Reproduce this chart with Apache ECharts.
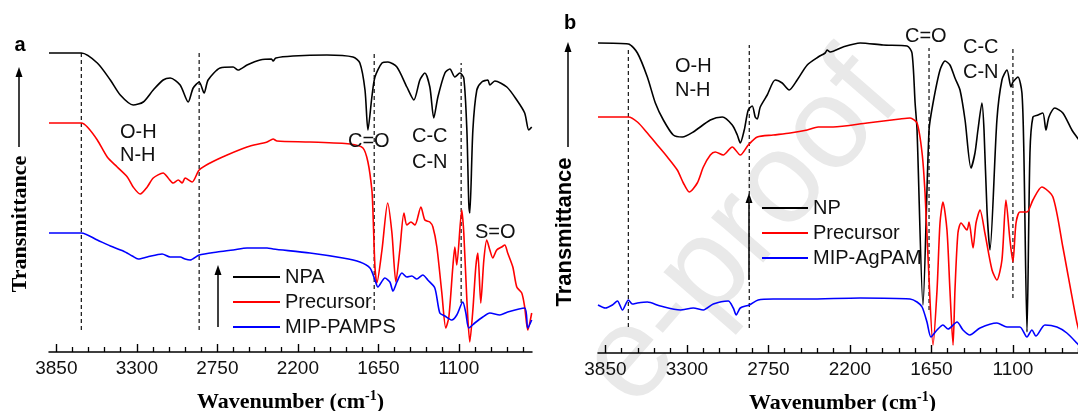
<!DOCTYPE html>
<html>
<head>
<meta charset="utf-8">
<script src="https://cdn.jsdelivr.net/npm/echarts@6/dist/echarts.min.js"></script>
<style>
  html, body { margin: 0; padding: 0; background: #fff; }
  #chart { width: 1078px; height: 411px; }
</style>
</head>
<body>
<div id="chart"></div>
<script>
  // wavenumber axis
  const majorTicks = [3850, 3300, 2750, 2200, 1650, 1100]
  const minorTicks = [3740, 3630, 3520, 3410, 3190, 3080, 2970, 2860, 2640, 2530, 2420, 2310,
    2090, 1980, 1870, 1760, 1540, 1430, 1320, 1210, 990, 880, 770, 660]

  // panel a spectra: [wavenumber, transmittance (a.u., offset)]
  const npa = [[3900, 299], [3679, 299], [3570, 289], [3481, 272], [3413, 257], [3325, 247], [3256, 250],
    [3188, 262], [3120, 272], [3072, 274], [3004, 267], [2949, 250], [2915, 264], [2874, 270], [2840, 259],
    [2813, 272], [2731, 284], [2642, 285], [2608, 282], [2547, 287], [2458, 292], [2380, 293], [2369, 291],
    [2350, 294], [2233, 296], [2001, 297], [1823, 295], [1776, 289], [1741, 262], [1721, 222], [1694, 255],
    [1673, 275], [1625, 289], [1584, 290], [1523, 285], [1455, 265], [1407, 252], [1366, 272], [1332, 279],
    [1298, 265], [1271, 234], [1243, 255], [1195, 279], [1161, 283], [1127, 275], [1093, 279], [1066, 274],
    [1045, 222], [1032, 149], [1025, 139], [1004, 222], [977, 262], [943, 270], [902, 272], [888, 267],
    [854, 271], [772, 265], [704, 252], [650, 239], [622, 222], [602, 225]]

  const precursorA = [[3900, 229], [3679, 229], [3638, 225], [3570, 212], [3502, 195], [3434, 185], [3365, 175],
    [3325, 165], [3277, 158], [3229, 165], [3188, 174], [3120, 179], [3086, 174], [3052, 169], [3017, 172],
    [2990, 169], [2970, 174], [2922, 170], [2874, 182], [2799, 189], [2683, 197], [2547, 205], [2410, 210],
    [2369, 213], [2342, 211], [2117, 210], [1844, 208], [1755, 204], [1721, 190], [1694, 162], [1687, 142],
    [1673, 85], [1660, 69], [1625, 102], [1586, 149], [1557, 119], [1530, 70], [1503, 102], [1475, 139],
    [1455, 127], [1427, 130], [1400, 127], [1359, 145], [1332, 132], [1298, 130], [1277, 125], [1250, 105],
    [1216, 59], [1189, 24], [1168, 35], [1141, 85], [1127, 105], [1114, 87], [1080, 142], [1066, 119],
    [1045, 52], [1025, 10], [1004, 42], [984, 85], [970, 99], [950, 49], [929, 92], [909, 112], [888, 102],
    [868, 94], [841, 102], [807, 105], [786, 107], [766, 99], [731, 85], [704, 65], [670, 59], [650, 45],
    [629, 22], [602, 39]]

  const mipPamps = [[3900, 119], [3679, 119], [3570, 112], [3481, 106], [3393, 101], [3331, 96], [3290, 93],
    [3229, 95], [3127, 98], [3072, 95], [3004, 95], [2970, 93], [2936, 92], [2874, 97], [2751, 100],
    [2642, 102], [2547, 104], [2410, 104], [2369, 103], [2117, 99], [1892, 94], [1776, 90], [1707, 84],
    [1673, 72], [1653, 65], [1605, 74], [1571, 70], [1550, 61], [1523, 70], [1489, 79], [1455, 75],
    [1421, 76], [1387, 73], [1346, 77], [1312, 72], [1264, 64], [1230, 39], [1195, 36], [1148, 32],
    [1114, 37], [1073, 50], [1052, 39], [1032, 24], [991, 29], [936, 35], [888, 39], [820, 37], [766, 40],
    [650, 44], [629, 24], [602, 32]]

  // panel b spectra
  const np = [[3900, 310], [3695, 309], [3634, 300], [3567, 276], [3513, 250], [3459, 233], [3392, 218],
    [3331, 216], [3257, 221], [3142, 233], [3061, 236], [2994, 228], [2960, 218], [2940, 210], [2913, 223],
    [2886, 243], [2859, 247], [2839, 236], [2825, 234], [2805, 246], [2758, 258], [2704, 273], [2657, 270],
    [2610, 263], [2556, 273], [2488, 288], [2414, 296], [2367, 300], [2354, 303], [2333, 301], [2246, 306],
    [2131, 310], [1976, 308], [1814, 307], [1781, 300], [1760, 250], [1747, 223], [1707, 48], [1666, 223],
    [1639, 250], [1592, 283], [1558, 292], [1525, 288], [1491, 275], [1457, 263], [1423, 233], [1383, 185],
    [1356, 200], [1336, 223], [1309, 250], [1295, 223], [1275, 143], [1255, 103], [1208, 233], [1174, 273],
    [1140, 283], [1113, 266], [1100, 271], [1066, 276], [1039, 260], [1026, 200], [1005, 21], [985, 200],
    [965, 236], [931, 238], [898, 240], [877, 223], [857, 236], [817, 245], [763, 240], [702, 223],
    [669, 216], [640, 210]]

  const precursorB = [[3900, 236], [3695, 236], [3634, 231], [3567, 220], [3500, 208], [3432, 196], [3365, 183],
    [3324, 170], [3284, 161], [3230, 170], [3189, 186], [3142, 198], [3109, 201], [3055, 198], [2994, 206],
    [2940, 198], [2886, 208], [2825, 216], [2718, 218], [2603, 220], [2488, 223], [2414, 226], [2313, 226],
    [2084, 230], [1862, 234], [1794, 235], [1747, 230], [1713, 200], [1693, 160], [1673, 96], [1639, 8],
    [1612, 63], [1592, 130], [1572, 151], [1545, 123], [1525, 63], [1504, 8], [1491, 63], [1471, 120],
    [1450, 130], [1410, 123], [1396, 131], [1369, 105], [1349, 130], [1322, 143], [1289, 120], [1241, 83],
    [1208, 73], [1174, 93], [1147, 153], [1120, 113], [1100, 91], [1079, 130], [1053, 141], [1005, 141],
    [965, 153], [905, 166], [830, 156], [763, 106], [669, 31], [640, 15]]

  const mipAgpam = [[3900, 48], [3850, 45], [3803, 48], [3769, 52], [3735, 43], [3695, 53], [3668, 49],
    [3634, 50], [3567, 51], [3479, 47], [3344, 43], [3257, 45], [3189, 43], [3122, 49], [3021, 52],
    [2987, 45], [2967, 38], [2940, 45], [2879, 48], [2819, 53], [2718, 54], [2488, 54], [2131, 55],
    [1794, 54], [1747, 51], [1713, 46], [1680, 31], [1653, 16], [1612, 23], [1572, 28], [1538, 24],
    [1477, 31], [1437, 23], [1390, 18], [1322, 25], [1208, 30], [1140, 26], [1053, 26], [1005, 16],
    [972, 23], [945, 17], [884, 28], [803, 26], [736, 20], [669, 10], [640, 5]]

  // band guide lines: [wavenumber, low, high]
  const guidesA = [[3679, 22, 302], [2874, 22, 302], [1678, 42, 299], [1084, 49, 289]]
  const guidesB = [[3695, 26, 305], [2879, 25, 308], [1666, 43, 305], [1100, 55, 305]]

  const sans = 'Liberation Sans'
  const serif = 'Liberation Serif'

  function spectrum(name, data, color, grid) {
    return {
      name: name,
      type: 'line',
      xAxisIndex: grid * 2,
      yAxisIndex: grid,
      data: data,
      symbol: 'none',
      smooth: 0.25,
      lineStyle: { color: color, width: 1.6 },
      itemStyle: { color: color },
      silent: true,
      z: 3
    }
  }

  function guides(list, grid) {
    return list.map(g => ({
      type: 'line',
      xAxisIndex: grid * 2,
      yAxisIndex: grid,
      data: [[g[0], g[1]], [g[0], g[2]]],
      symbol: 'none',
      silent: true,
      lineStyle: { color: '#222', width: 1.3, type: [4, 3] },
      z: 2
    }))
  }

  function mainAxis(grid) {
    return {
      type: 'value',
      gridIndex: grid,
      position: 'bottom',
      min: 600,
      max: 3900,
      inverse: true,
      name: '{t|Wavenumber (cm}{s|-1}{t|)}',
      nameLocation: 'middle',
      nameGap: 37,
      nameTextStyle: {
        rich: {
          t: { fontFamily: serif, fontWeight: 'bold', fontSize: 22, color: '#000' },
          s: { fontFamily: serif, fontWeight: 'bold', fontSize: 14, color: '#000', padding: [0, 0, 12, 0] }
        }
      },
      axisLine: { lineStyle: { color: '#000', width: 1.5 } },
      axisTick: { customValues: majorTicks, inside: true, length: 8, lineStyle: { color: '#000', width: 1.4 } },
      axisLabel: {
        customValues: majorTicks, fontFamily: sans, fontSize: 19, color: '#111', margin: 7,
        formatter: v => String(v)
      },
      splitLine: { show: false }
    }
  }

  function minorAxis(grid) {
    return {
      type: 'value',
      gridIndex: grid,
      position: 'bottom',
      min: 600,
      max: 3900,
      inverse: true,
      axisLine: { show: false },
      axisTick: { customValues: minorTicks, inside: true, length: 5, lineStyle: { color: '#000', width: 1.3 } },
      axisLabel: { show: false },
      splitLine: { show: false }
    }
  }

  function arrowUp(x, y0, y1) {
    return [{
      type: 'line',
      shape: { x1: x, y1: y0, x2: x, y2: y1 + 8 },
      style: { stroke: '#000', lineWidth: 1.5 }
    }, {
      type: 'polygon',
      shape: { points: [[x, y1], [x - 3.5, y1 + 10], [x + 3.5, y1 + 10]] },
      style: { fill: '#000' }
    }]
  }

  function label(text, x, y, size, align) {
    return {
      type: 'text',
      style: {
        text: text, x: x, y: y, fill: '#111',
        font: size + 'px "' + sans + '"',
        textAlign: align || 'left', textVerticalAlign: 'middle'
      },
      z: 10
    }
  }

  function yTitle(text, x, y, font) {
    return {
      type: 'text',
      x: x, y: y, rotation: Math.PI / 2,
      style: { text: text, font: font, fill: '#000', textAlign: 'center', textVerticalAlign: 'middle' }
    }
  }

  const legendText = { fontFamily: sans, fontSize: 20, lineHeight: 20, color: '#111' }

  const option = {
    animation: false,
    backgroundColor: '#fff',
    grid: [
      { left: 49, top: 10, width: 483, height: 342, outerBoundsMode: 'none' },
      { left: 598, top: 10, width: 489, height: 343, outerBoundsMode: 'none' }
    ],
    xAxis: [mainAxis(0), minorAxis(0), mainAxis(1), minorAxis(1)],
    yAxis: [
      { type: 'value', gridIndex: 0, min: 0, max: 342, show: false },
      { type: 'value', gridIndex: 1, min: 0, max: 343, show: false }
    ],
    legend: [{
      data: ['NPA', 'Precursor', 'MIP-PAMPS'],
      orient: 'vertical',
      left: 228, top: 262,
      icon: 'rect',
      itemWidth: 47, itemHeight: 2, itemGap: 5,
      textStyle: legendText
    }, {
      data: ['NP', 'Precursor', 'MIP-AgPAM'],
      orient: 'vertical',
      left: 757, top: 193,
      icon: 'rect',
      itemWidth: 46, itemHeight: 2, itemGap: 5,
      textStyle: legendText
    }],
    graphic: [
      {
        type: 'text',
        x: 742, y: 232, rotation: Math.PI * 49 / 180, z: -10,
        style: { text: 'e-proof', font: '130px "' + sans + '"', fill: '#e9e9e9', textAlign: 'center', textVerticalAlign: 'middle' }
      },
      { type: 'text', style: { text: 'a', x: 20, y: 45, font: 'bold 20px "' + sans + '"', fill: '#000', textAlign: 'center', textVerticalAlign: 'middle' } },
      { type: 'text', style: { text: 'b', x: 570, y: 23, font: 'bold 20px "' + sans + '"', fill: '#000', textAlign: 'center', textVerticalAlign: 'middle' } },
      yTitle('Transmittance', 20, 224, 'bold 22px "' + serif + '"'),
      yTitle('Transmittance', 565, 232, 'bold 22px "' + sans + '"'),
      ...arrowUp(19, 147, 67),
      ...arrowUp(568, 147, 42),
      ...arrowUp(218, 327, 265),
      ...arrowUp(749, 280, 193),
      label('O-H', 120, 132, 20),
      label('N-H', 120, 155, 20),
      label('C=O', 348, 141, 20),
      label('C-C', 412, 136, 20),
      label('C-N', 412, 162, 20),
      label('S=O', 475, 232, 20),
      label('O-H', 675, 66, 20),
      label('N-H', 675, 90, 20),
      label('C=O', 905, 36, 20),
      label('C-C', 963, 47, 20),
      label('C-N', 963, 72, 20)
    ],
    series: [
      ...guides(guidesA, 0),
      ...guides(guidesB, 1),
      spectrum('NPA', npa, '#000', 0),
      spectrum('Precursor', precursorA, '#ff0000', 0),
      spectrum('MIP-PAMPS', mipPamps, '#0000ff', 0),
      spectrum('NP', np, '#000', 1),
      spectrum('Precursor', precursorB, '#ff0000', 1),
      spectrum('MIP-AgPAM', mipAgpam, '#0000ff', 1)
    ]
  }

  const chart = echarts.init(document.getElementById('chart'))
  chart.setOption(option)
</script>
</body>
</html>
